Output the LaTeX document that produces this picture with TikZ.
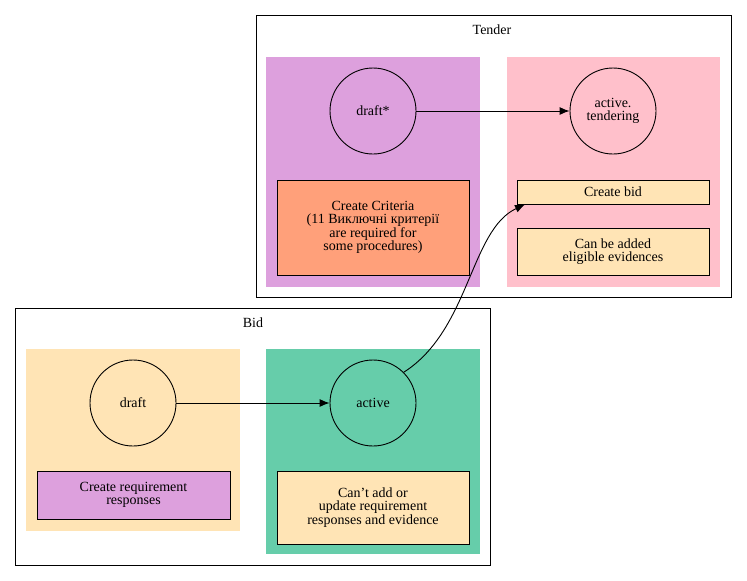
\documentclass[tikz,border=0pt]{standalone}
\usepackage{fontspec}
\setmainfont{Liberation Serif}
\usetikzlibrary{arrows.meta}
\definecolor{plum}{HTML}{DDA0DD}
\definecolor{salmonl}{HTML}{FFA07A}
\definecolor{pinkl}{HTML}{FFC0CB}
\definecolor{moccasin}{HTML}{FFE4B5}
\definecolor{aquam}{HTML}{66CDAA}
\begin{document}
\begin{tikzpicture}[x=1pt, y=-1pt, line width=0.9pt, >={Latex[length=10pt,width=8pt]}, every node/.style={font=\fontsize{14}{13.5}\selectfont}, align=center,
  state/.style={draw, circle, minimum size=86pt, inner sep=0pt},
  note/.style={draw, inner sep=1pt}]
\useasboundingbox (0,0) rectangle (747,581);

% Clusters
\draw (256,15) rectangle (731,297);
\node (tender) at (492,30) {Tender};
\fill[plum] (266,57) rectangle (480,287);
\fill[pinkl] (507,57) rectangle (720,287);
\draw (15,308) rectangle (490,565);
\node (bid) at (253,323) {Bid};
\fill[moccasin] (26,349) rectangle (240,531);
\fill[aquam] (266,349) rectangle (480,554);

% Nodes
\node (drafts) [state, fill=plum] at (373,111) {draft*};
\node (tendering) [state, fill=pinkl] at (613,111) {active.\\tendering};
\node (criteria) [note, fill=salmonl, minimum width=192pt, minimum height=95pt] at (373,227.5) {Create Criteria\\(11 Виключні критерії\\are required for\\some procedures)};
\node (createbid) [note, fill=moccasin, minimum width=192pt, minimum height=24pt] at (613,192) {Create bid};
\node (evidences) [note, fill=moccasin, minimum width=192pt, minimum height=47pt] at (613,251.5) {Can be added\\eligible evidences};
\node (draft) [state, fill=moccasin] at (133,403) {draft};
\node (active) [state, fill=aquam] at (373,403) {active};
\node (responses) [note, fill=plum, minimum width=193pt, minimum height=48pt] at (133.5,495) {Create requirement\\responses};
\node (cantadd) [note, fill=moccasin, minimum width=192pt, minimum height=73pt] at (373,507.5) {Can't add or\\update requirement\\responses and evidence};

% Arrows
\draw[->] (drafts) -- (tendering);
\draw[->] (draft) -- (active);
\draw[->] (active.45) .. controls (470,330) and (470,230) .. (createbid.south west -| 525,180);
\end{tikzpicture}
\end{document}
